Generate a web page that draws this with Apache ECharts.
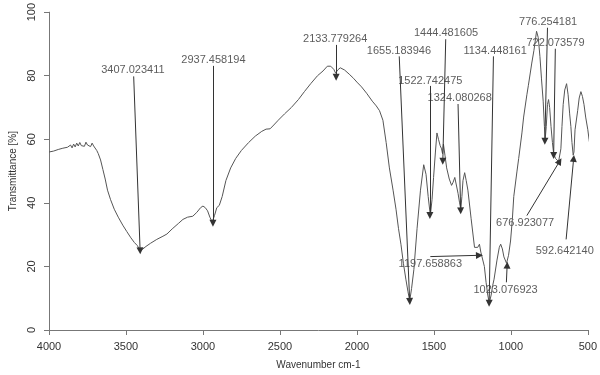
<!DOCTYPE html>
<html>
<head>
<meta charset="utf-8">
<script src="https://cdn.jsdelivr.net/npm/echarts@6/dist/echarts.min.js"></script>
<style>
  html, body { margin: 0; padding: 0; background: #fff; }
  #chart { width: 600px; height: 375px; }
</style>
</head>
<body>
<div id="chart"></div>
<script>
// spectrum (wavenumber cm-1 -> transmittance %)
var wavenumber = [
  4000, 3970, 3940, 3910, 3880, 3860, 3850, 3840, 3830, 3820,
  3810, 3800, 3790, 3780, 3770, 3760, 3750, 3740, 3730, 3720,
  3710, 3700, 3690, 3680, 3665, 3650, 3635, 3620, 3600, 3576,
  3550, 3521, 3495, 3468, 3445, 3425, 3408, 3390, 3370, 3340,
  3300, 3260, 3234, 3200, 3160, 3130, 3100, 3066, 3040, 3015,
  3000, 2985, 2970, 2955, 2940, 2925, 2910, 2894, 2875, 2851,
  2820, 2787, 2750, 2703, 2660, 2618, 2590, 2564, 2540, 2511,
  2470, 2426, 2380, 2341, 2300, 2256, 2220, 2192, 2170, 2150,
  2138, 2125, 2108, 2080, 2050, 2022, 2000, 1970, 1937, 1900,
  1874, 1853, 1831, 1810, 1789, 1765, 1746, 1730, 1714, 1698,
  1682, 1668, 1657, 1645, 1630, 1609, 1587, 1566, 1551, 1537,
  1523, 1512, 1502, 1490, 1480, 1470, 1459, 1450, 1444, 1438,
  1428, 1417, 1400, 1385, 1375, 1364, 1343, 1333, 1325, 1318,
  1311, 1300, 1290, 1279, 1258, 1236, 1225, 1215, 1204, 1195,
  1185, 1172, 1161, 1150, 1140, 1128, 1118, 1109, 1090, 1075,
  1066, 1055, 1045, 1028, 1015, 1002, 990, 981, 960, 949,
  928, 917, 896, 886, 864, 850, 833, 822, 811, 801,
  790, 782, 777, 770, 762, 755, 748, 739, 730, 722,
  710, 700, 690, 683, 675, 668, 660, 650, 638, 628,
  618, 610, 603, 595, 590, 583, 566, 556, 545, 535,
  525, 514, 500, 492, 471
];
var transmittance = [
  56.0, 56.3, 56.8, 57.2, 57.5, 58.2, 57.3, 58.5, 57.6, 58.8,
  57.9, 59.0, 58.0, 58.6, 57.8, 59.1, 58.2, 58.5, 57.7, 58.8,
  57.9, 57.5, 56.5, 55.5, 53.5, 50.5, 47.5, 44.0, 41.0, 38.0,
  35.5, 33.0, 31.0, 29.0, 27.5, 26.5, 24.8, 25.5, 26.3, 27.3,
  28.5, 29.5, 30.2, 31.8, 33.5, 34.8, 35.5, 35.8, 37.0, 38.5,
  39.0, 38.5, 37.5, 35.5, 34.0, 36.0, 38.5, 39.2, 42.0, 47.0,
  51.0, 54.0, 56.5, 59.0, 61.0, 62.5, 63.2, 63.3, 64.5, 66.0,
  68.0, 70.0, 72.5, 75.0, 77.5, 80.0, 81.5, 83.0, 83.0, 82.0,
  80.8, 81.8, 82.5, 81.8, 80.5, 79.2, 78.0, 76.5, 74.5, 72.0,
  70.5, 69.0, 66.0, 59.0, 51.0, 44.0, 38.0, 32.0, 27.0, 21.0,
  16.0, 12.0, 9.2, 13.0, 19.0, 32.0, 44.0, 52.0, 49.0, 42.0,
  36.0, 41.0, 48.0, 56.0, 62.0, 60.0, 58.0, 57.0, 55.5, 58.5,
  55.0, 51.0, 47.5, 45.5, 46.5, 48.0, 43.0, 40.0, 38.0, 42.0,
  47.0, 49.5, 47.0, 44.0, 35.0, 26.0, 25.5, 26.0, 27.0, 24.5,
  24.0, 20.0, 15.0, 11.0, 8.5, 11.0, 14.0, 16.0, 22.0, 26.0,
  27.0, 25.5, 23.0, 21.0, 23.5, 28.0, 35.0, 42.0, 50.0, 54.0,
  62.0, 67.0, 74.0, 77.0, 84.0, 88.0, 94.0, 92.0, 86.0, 79.0,
  72.0, 64.0, 60.0, 64.0, 71.0, 72.5, 70.0, 64.0, 59.0, 55.5,
  54.0, 53.5, 53.0, 52.5, 57.0, 64.0, 71.0, 75.5, 77.5, 74.0,
  68.0, 64.0, 59.0, 55.0, 56.0, 63.0, 69.0, 73.0, 75.0, 73.5,
  71.0, 67.0, 63.0, 60.0, 53.0
];

// peak annotations: text, where the text sits, and arrow from -> to
var peakText = [
  '3407.023411', '2937.458194', '2133.779264', '1655.183946', '1444.481605',
  '1522.742475', '1324.080268', '1134.448161', '776.254181', '722.073579',
  '676.923077', '592.642140', '1197.658863', '1023.076923'
];
var textPos = [
  [3455, 81.9], [2932, 84.9], [2141, 91.5], [1727, 87.9], [1421, 93.6],
  [1523, 78.3], [1332, 72.9], [1102, 87.9], [758, 96.9], [710, 90.3],
  [907, 33.6], [650, 24.9], [1523, 20.7], [1034, 12.6]
];
var arrowFrom = [
  [3450, 79.8], [2935, 83.1], [2135, 89.7], [1725, 86.1], [1423, 91.5],
  [1526, 76.8], [1343, 71.1], [1113, 86.1], [762, 95.1], [711, 88.5],
  [896, 36.0], [641, 28.5], [1523, 23.1], [1029, 15.0]
];
var arrowTo = [
  [3408, 24.9], [2935, 33.6], [2135, 79.5], [1657, 9.0], [1442, 53.1],
  [1526, 36.0], [1326, 37.5], [1141, 8.4], [779, 59.4], [722, 54.9],
  [683, 53.1], [592, 54.0], [1204, 23.5], [1024, 20.4]
];

var FONT = '"Liberation Sans", Arial, sans-serif';

var chart = echarts.init(document.getElementById('chart'));

var curve = wavenumber.map(function (w, i) { return [w, transmittance[i]]; });
var arrows = arrowFrom.map(function (p, i) {
  return [{ coord: p }, { coord: arrowTo[i] }];
});
var labels = peakText.map(function (t, i) {
  return { name: t, value: textPos[i] };
});

var options = {
  animation: false,
  grid: { left: 46.5, right: 5, top: 7, bottom: 35 },
  xAxis: {
    type: 'value',
    min: 500,
    max: 4000,
    interval: 500,
    inverse: true,
    name: 'Wavenumber cm-1',
    nameLocation: 'middle',
    nameGap: 30,
    nameTextStyle: { color: '#333', fontSize: 10, fontFamily: FONT },
    splitLine: { show: false },
    axisLine: { show: true, lineStyle: { color: '#777', width: 1 } },
    axisTick: { show: true, length: 5, lineStyle: { color: '#777' } },
    axisLabel: {
      margin: 11, color: '#333', fontSize: 11, fontFamily: FONT,
      formatter: function (v) { return String(v); },
    },
  },
  yAxis: {
    type: 'value',
    min: 0,
    max: 100,
    interval: 20,
    name: 'Transmittance [%]',
    nameLocation: 'middle',
    nameGap: 31,
    nameTextStyle: { color: '#333', fontSize: 10, fontFamily: FONT },
    splitLine: { show: false },
    axisLine: { show: true, lineStyle: { color: '#777', width: 1 } },
    axisTick: { show: true, length: 5, lineStyle: { color: '#777' } },
    axisLabel: { rotate: 90, margin: 12, color: '#333', fontSize: 11, fontFamily: FONT },
  },
  series: [
    {
      type: 'line',
      data: curve,
      showSymbol: false,
      clip: false,
      silent: true,
      lineStyle: { color: '#555', width: 1 },
      markLine: {
        silent: true,
        symbol: ['none', 'triangle'],
        symbolSize: 7,
        label: { show: false },
        lineStyle: { color: '#333', width: 1, type: 'solid' },
        itemStyle: { color: '#222' },
        emphasis: { disabled: true },
        data: arrows,
      },
    },
    {
      type: 'scatter',
      data: labels,
      symbolSize: 0,
      silent: true,
      clip: false,
      label: {
        show: true,
        position: 'inside',
        formatter: '{b}',
        color: '#333',
        fontSize: 11,
        fontFamily: FONT,
      },
    },
  ],
};
chart.setOption(options);
</script>
</body>
</html>
